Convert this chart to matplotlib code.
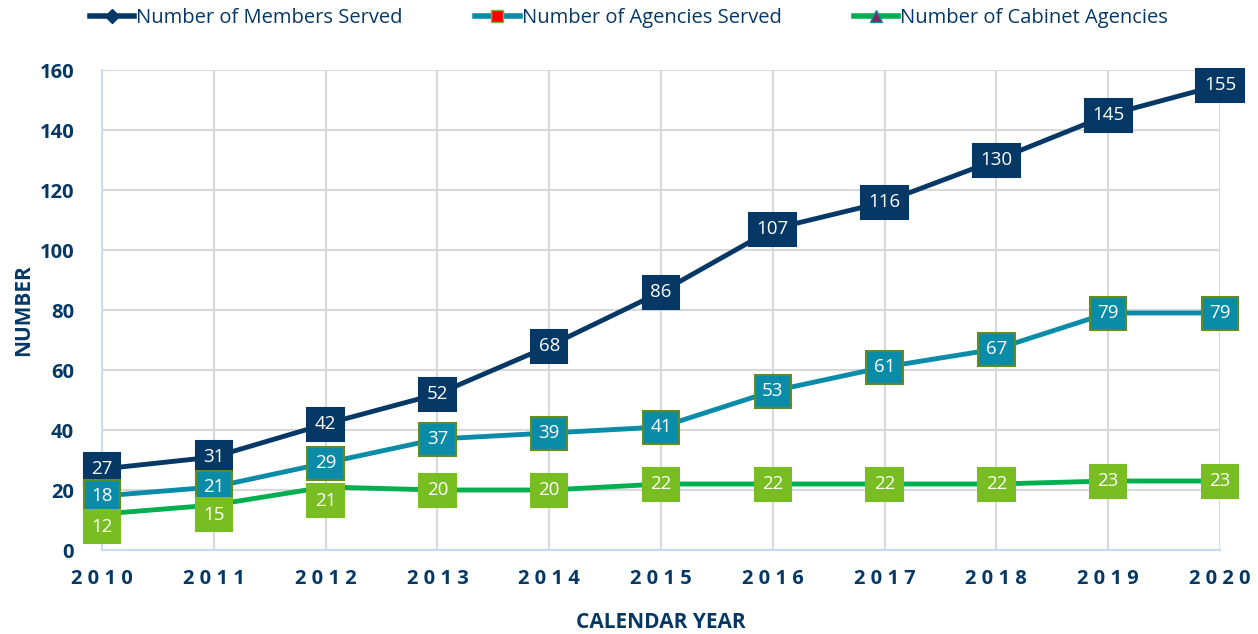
import matplotlib
matplotlib.use("Agg")
import matplotlib.pyplot as plt
from matplotlib.lines import Line2D

# chart data
years = [2010, 2011, 2012, 2013, 2014, 2015, 2016, 2017, 2018, 2019, 2020]
members = [27, 31, 42, 52, 68, 86, 107, 116, 130, 145, 155]
agencies = [18, 21, 29, 37, 39, 41, 53, 61, 67, 79, 79]
cabinet = [12, 15, 21, 20, 20, 22, 22, 22, 22, 23, 23]
year_labels = [" ".join(str(y)) for y in years]

navy = "#053864"
teal = "#0A8BA8"
lime = "#78BD22"
green = "#00B050"
olive = "#5E8E1E"

plt.rcParams['font.family'] = ['Open Sans', 'DejaVu Sans']

fig = plt.figure(figsize=(12.58, 6.34), dpi=100)
ax = fig.add_axes([102 / 1258, 84 / 634, 1118 / 1258, 480 / 634])

ax.plot(years, members, color=navy, lw=3.5, zorder=3)
ax.plot(years, agencies, color=teal, lw=3.5, zorder=3)
ax.plot(years, cabinet, color=green, lw=3.5, zorder=3)


def label(x, y, text, face, edge, dy=0):
    ax.annotate(text, (x, y), xytext=(0, dy), textcoords="offset points",
                ha="center", va="center", color="white", fontsize=13.5,
                zorder=5,
                bbox=dict(boxstyle="square,pad=0.4", fc=face,
                          ec=edge, lw=1.5))


for x, y in zip(years, members):
    label(x, y, str(y), navy, navy)
for x, y in zip(years, agencies):
    label(x, y, str(y), teal, olive)
# first few cabinet labels sit a bit lower in the original
cab_shift = [-9, -7, -10, 0, 0, 0, 0, 0, 0, 0, 0]
for x, y, d in zip(years, cabinet, cab_shift):
    label(x, y, str(y), lime, lime, dy=d)

ax.set_xlim(2010, 2020)
ax.set_ylim(0, 160)
ax.set_xticks(years)
ax.set_xticklabels(year_labels)
ax.set_yticks(range(0, 161, 20))
ax.grid(True, color="#D9D9D9", lw=1.5, zorder=0)
ax.set_axisbelow(True)
for s in ["top", "right"]:
    ax.spines[s].set_visible(False)
for s in ["left", "bottom"]:
    ax.spines[s].set_color("#C5DDF5")
    ax.spines[s].set_linewidth(1.5)
ax.tick_params(length=0, labelsize=14.5, labelcolor=navy)
ax.tick_params(axis="y", pad=20)
ax.tick_params(axis="x", pad=14)
for t in ax.get_xticklabels() + ax.get_yticklabels():
    t.set_fontweight("bold")

ax.set_xlabel("CALENDAR YEAR", fontsize=15, fontweight="bold", color=navy, labelpad=16)
ax.set_ylabel("NUMBER", fontsize=15, fontweight="bold", color=navy, labelpad=4)

handles = [
    Line2D([], [], color=navy, lw=4, marker="D", ms=7, mfc=navy, mec=navy),
    Line2D([], [], color=teal, lw=4, marker="s", ms=8, mfc="#FF0000", mec=lime),
    Line2D([], [], color=green, lw=4, marker="^", ms=8, mfc="#7A2A5E", mec=teal),
]
fig.legend(handles, ["Number of Members Served", "Number of Agencies Served",
                     "Number of Cabinet Agencies"],
           loc="center", bbox_to_anchor=(0.5, 1 - 18 / 634), ncol=3, frameon=False,
           fontsize=14.5, labelcolor=navy, handlelength=2.2, handletextpad=0.1,
           columnspacing=3.6)

fig.savefig("out.png", dpi=100)
